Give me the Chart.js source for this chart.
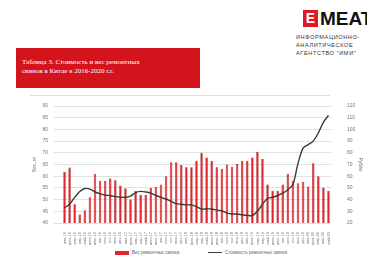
<!DOCTYPE html>
<html>
  <head>
    <meta charset="utf-8">
    <title>Стоимость и вес ремонтных свинок</title>
    <script src="https://cdn.jsdelivr.net/npm/chart.js@4.4.0/dist/chart.umd.min.js"></script>
    <style>
      body { margin: 0; width: 367px; height: 274px; background: #fff; position: relative; overflow: hidden; font-family: "Liberation Sans", Arial, sans-serif; }
      #titleBox { position: absolute; left: 16px; top: 48px; width: 184px; height: 40px; background: #d3141c; color: #fff;
        font-family: "Liberation Serif", serif; font-size: 7px; line-height: 9px; box-sizing: border-box; padding: 10px 0 0 6px; }
      #logo { position: absolute; left: 303px; top: 10px; }
      #logo .e { position: absolute; left: 0; top: 0; width: 15px; height: 17px; background: #e4161f; color: #fff; font: bold 14px "Liberation Sans"; text-align: center; line-height: 17px; }
      #logo .meat { position: absolute; left: 17px; top: -2px; font: bold 19px "Liberation Sans"; color: #111; white-space: nowrap; }
      #logo .sub { position: absolute; left: -7px; top: 23px; font: 5.6px "Liberation Sans"; color: #333; line-height: 8px; white-space: nowrap; letter-spacing: 0.6px; }
      #topline { position: absolute; left: 30px; top: 95px; width: 300px; height: 1px; background: #f6d8c8; }
      #chartWrap { position: absolute; left: 30px; top: 95px; width: 335px; height: 152px; }
      #legend { position: absolute; top: 250px; left: 0; width: 367px; font-size: 4.5px; color: #666; }
      #legend span { position: absolute; white-space: nowrap; }
      .sw { position: absolute; }
    </style>
  </head>
  <body>

    <!-- Header -->
    <div id="titleBox">Таблица 3. Стоимость и вес ремонтных<br>свинок в Китае в 2016-2020 г.г.</div>
    <div id="logo">
      <div class="e">E</div>
      <div class="meat">MEAT</div>
      <div class="sub">ИНФОРМАЦИОННО-<br>АНАЛИТИЧЕСКОЕ<br>АГЕНТСТВО "ИМИ"</div>
    </div>
    <div id="topline"></div>

    <!-- The canvas -->
    <div id="chartWrap"><canvas id="pigChart"></canvas></div>

    <!-- Legend -->
    <div id="legend">
      <div class="sw" style="left:115px; top:1px; width:14px; height:4px; background:#e2262c;"></div>
      <span style="left:132px; top:0;">Вес ремонтных свинок</span>
      <div class="sw" style="left:208px; top:2px; width:14px; height:1.4px; background:#3a3a3a;"></div>
      <span style="left:225px; top:0;">Стоимость ремонтных свинок</span>
    </div>

    <script>

      // Months, Jan 2016 .. May 2020
      const months = ["янв", "фев", "мар", "апр", "май", "июн", "июл", "авг", "сен", "окт", "ноя", "дек"];
      const labels = [];
      for (let y = 16; y <= 20; y++) {
        for (let m = 0; m < 12; m++) {
          if (y === 20 && m > 4) break;
          labels.push(months[m] + "." + y);
        }
      }

      // Weight of gilts, kg (left axis)
      const weight = [61.8, 63.7, 48, 43.6, 45.5, 51, 61, 58, 58, 59, 58.3, 56, 54.9, 50, 53.8, 52, 52, 55, 55.5, 56.5, 60, 66, 66,
                      64.8, 63.8, 63.8, 66.6, 70, 68, 66.6, 63.8, 63.1, 65, 64, 65.2, 66.6, 66.6, 68, 70.3, 67.3,
                      56.5, 53.8, 53.8, 56.5, 61, 58, 57, 57.6, 55.6, 65.5, 60, 55.2, 53.8];

      // Price of gilts (right axis)
      const price = [33, 36, 42, 47, 49.5, 49, 46.5, 45, 43.7, 43.5, 42.5, 42, 42, 43, 46, 47, 46.5, 45.5, 43.5, 42, 40.5, 38.5, 36.5,
                     36, 35.5, 35.5, 34, 32, 32, 32, 31, 30.5, 28.5, 27.7, 27.7, 27, 26.5, 26.4, 30, 36, 41,
                     42, 43.5, 45.5, 48.5, 53, 71, 84, 87, 90, 97, 106, 112];

      const leftTicks = [40, 45, 50, 55, 60, 65, 70, 75, 80, 85, 90];
      const rightTicks = [20, 30, 40, 50, 60, 70, 80, 90, 100, 110, 120];

      const ctx = document.getElementById("pigChart").getContext("2d");

      const chart = new Chart(ctx, {
        data: {
          labels: labels,
          datasets: [
            {
              type: "line",
              label: "Стоимость ремонтных свинок",
              data: price,
              yAxisID: "yR",
              borderColor: "#3a3a3a",
              borderWidth: 1.4,
              pointRadius: 0,
              tension: 0.3,
              order: 0
            },
            {
              type: "bar",
              label: "Вес ремонтных свинок",
              data: weight,
              yAxisID: "yL",
              backgroundColor: "#e2262c",
              borderColor: "#b51d22",
              borderWidth: 0.6,
              categoryPercentage: 0.9,
              barPercentage: 0.55,
              order: 1
            }
          ]
        },
        options: {
          responsive: true,
          maintainAspectRatio: false,
          animation: false,
          layout: { padding: { top: 6, left: 0, right: 0, bottom: 0 } },
          plugins: {
            legend: { display: false },
            tooltip: { enabled: false }
          },
          scales: {
            x: {
              grid: { display: false },
              border: { display: false },
              ticks: {
                autoSkip: false,
                maxRotation: 90,
                minRotation: 90,
                color: "#7a7a7a",
                font: { size: 4, family: "Liberation Sans" },
                padding: 1
              },
              afterFit: (s) => { s.height = 24; }
            },
            yL: {
              position: "left",
              min: 40,
              max: 90,
              afterBuildTicks: (s) => { s.ticks = leftTicks.map(v => ({ value: v })); },
              grid: { color: "#d9d9d9", lineWidth: 0.8 },
              border: { display: false },
              ticks: { color: "#777", font: { size: 5, family: "Liberation Sans" }, padding: 6 },
              title: { display: true, text: "Вес, кг", color: "#777", font: { size: 5, family: "Liberation Sans" }, padding: 2 },
              afterFit: (s) => { s.width = 32; }
            },
            yR: {
              position: "right",
              min: 20,
              max: 120,
              afterBuildTicks: (s) => { s.ticks = rightTicks.map(v => ({ value: v })); },
              grid: { display: false },
              border: { display: false },
              ticks: { color: "#777", font: { size: 5, family: "Liberation Sans" }, padding: 8 },
              title: { display: true, text: "Руб/кг", color: "#777", font: { size: 5, family: "Liberation Sans" }, padding: 2 },
              afterFit: (s) => { s.width = 34; }
            }
          }
        }
      });

    </script>
  </body>
</html>
